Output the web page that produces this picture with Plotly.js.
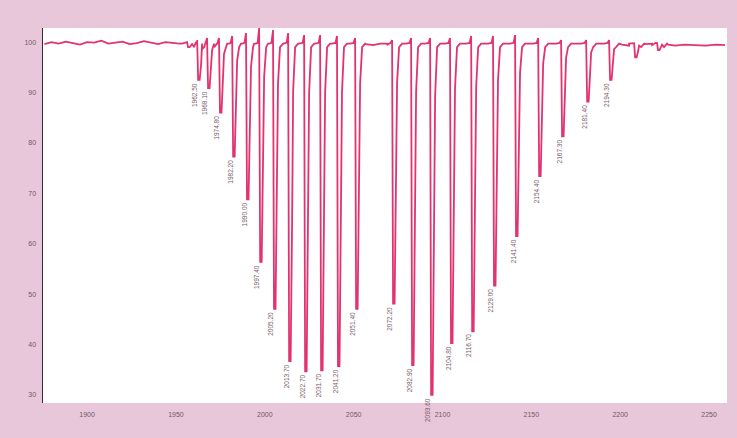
<!DOCTYPE html>
<html><head><meta charset="utf-8">
<script src="https://cdn.plot.ly/plotly-3.0.1.min.js"></script>
<style>html,body{margin:0;padding:0;background:#e8c7da;} #chart{width:737px;height:438px;}</style>
</head><body><div id="chart"></div>
<script>
// Tick labels
const xTickVals = [1900, 1950, 2000, 2050, 2100, 2150, 2200, 2250];
const yTickVals = [30, 40, 50, 60, 70, 80, 90, 100];

// Absorption lines: position, transmittance minimum, top of the spike just before the dip
const peakX   = [1956.8, 1962.5, 1968.1, 1974.8, 1982.2, 1990.0, 1997.4, 2005.2, 2013.7, 2022.7, 2031.7, 2041.2, 2051.4,
                 2072.2, 2082.9, 2093.6, 2104.8, 2116.7, 2129.0, 2141.4, 2154.4, 2167.3, 2181.4, 2194.3, 2208.4, 2221.3];
const peakMin = [99.0, 92.5, 90.9, 86.0, 77.3, 68.8, 56.4, 47.1, 36.7, 34.7, 34.9, 35.7, 47.1,
                 48.1, 35.9, 30.0, 40.3, 42.6, 51.7, 61.5, 73.4, 81.3, 88.2, 92.5, 97.0, 98.4];
const peakTop = [100.0, 100.4, 100.8, 100.8, 101.2, 101.8, 102.8, 102.4, 101.8, 101.4, 101.4, 101.2, 100.8,
                 100.4, 100.8, 100.8, 100.8, 101.2, 101.2, 101.4, 100.8, 100.4, 100.4, 100.4, 99.8, 99.8];
const labelledPeaks = [1,2,3,4,5,6,7,8,9,10,11,12,13,14,15,16,17,18,19,20,21,22,23];

// Flat baseline stretches (outside the lines)
const baseX = [1876, 1880, 1884, 1888, 1892, 1896, 1900, 1904, 1908, 1912, 1916, 1920, 1924, 1928, 1932, 1936, 1940, 1944, 1948, 1952,
               2057, 2061, 2065, 2069,
               2201, 2205, 2214, 2218, 2227, 2231, 2236, 2242, 2248, 2254, 2259];
const baseY = [99.6, 100.0, 99.7, 100.1, 99.8, 99.5, 100.0, 99.9, 100.3, 99.7, 99.9, 100.1, 99.6, 99.8, 100.2, 99.9, 99.6, 100.0, 99.8, 99.7,
               99.6, 99.4, 99.7, 99.5,
               99.5, 99.3, 99.6, 99.4, 99.5, 99.3, 99.5, 99.4, 99.3, 99.5, 99.4];

const u = 1 / 1.777; // one pixel in wavenumber units (line-shape drawing)
const pts = [];
baseX.forEach((x, i) => pts.push([x, baseY[i]]));
peakX.forEach((x, i) => {
  const m = peakMin[i], t = peakTop[i], b = 99.7, d = b - m;
  pts.push([x - 6*u, b], [x - 2.5*u, b + 0.15], [x - 1*u, t], [x, m], [x + 1.5*u, m],
           [x + 3*u, m + 0.45*d], [x + 4*u, m + 0.85*d], [x + 6*u, b - 0.7], [x + 9*u, b]);
});
pts.sort((a, b) => a[0] - b[0]);

const trace = {
  x: pts.map(p => p[0]), y: pts.map(p => p[1]),
  type: 'scatter', mode: 'lines',
  line: {color: '#e2336d', width: 1.8},
  hoverinfo: 'skip'
};

const annotations = labelledPeaks.map(i => ({
  x: peakX[i], y: peakMin[i], xref: 'x', yref: 'y',
  text: peakX[i].toFixed(2), showarrow: false, textangle: -90,
  xanchor: 'center', yanchor: 'top', xshift: -3, yshift: -1,
  font: {size: 6.5, color: '#7a5a6a', family: 'Liberation Sans, Arial, sans-serif'}
}));

const layout = {
  width: 737, height: 438,
  margin: {l: 43, r: 10, t: 28, b: 35},
  paper_bgcolor: '#e8c7da', plot_bgcolor: '#ffffff',
  showlegend: false,
  font: {family: 'Liberation Sans, Arial, sans-serif'},
  xaxis: {range: [1875.2, 2260.1], tickvals: xTickVals, showgrid: false, zeroline: false,
          showline: false, ticks: '', ticklabelstandoff: 6,
          tickfont: {size: 7, color: '#6f5a66'}},
  yaxis: {range: [28.4, 102.8], tickvals: yTickVals, showgrid: false, zeroline: false,
          showline: true, linecolor: '#3a2a33', linewidth: 1.5, ticks: '', ticklabelstandoff: 4,
          tickfont: {size: 7, color: '#6f5a66'}},
  annotations: annotations
};

Plotly.newPlot('chart', [trace], layout, {displayModeBar: false, staticPlot: true});
</script>
</body></html>
